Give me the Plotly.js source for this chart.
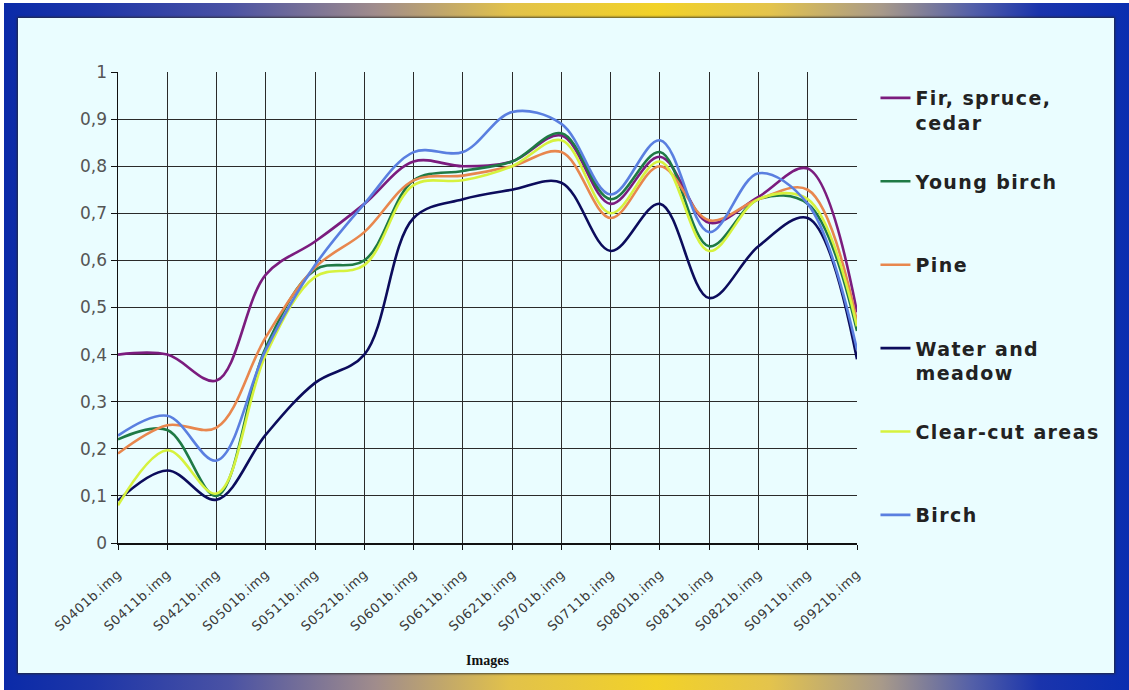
<!DOCTYPE html>
<html>
<head>
<meta charset="utf-8">
<script src="https://cdn.plot.ly/plotly-3.0.1.min.js"></script>
<style>
  html, body { margin: 0; padding: 0; background: #ffffff; }
  #wrap { position: relative; width: 1129px; height: 690px; overflow: hidden; }
  #frame {
    position: absolute; left: 4px; top: 3px; width: 1125px; height: 687px;
    background: linear-gradient(to right, #0a2aa8 0%, #1e36a8 8%, #4a52a4 20%, #a08c8c 33%, #e2c24a 45%, #f2d228 58%, #e4c44c 68%, #a89a8a 78%, #5460a8 86%, #1a34ac 92%, #0a2eb0 100%);
  }
  #inner {
    position: absolute; left: 18px; top: 18px; width: 1096px; height: 655px;
    background: #eafdff;
    box-shadow: 0 0 2px 1px rgba(40,40,40,0.8);
  }
  #chart { position: absolute; left: 0; top: 0; width: 1129px; height: 690px; }
  #chart .legendtext { letter-spacing: 1.4px; }
  #chart .xtick text { letter-spacing: 0.6px; }
</style>
</head>
<body>
<div id="wrap">
  <div id="frame"></div>
  <div id="inner"></div>
  <div id="chart"></div>
</div>
<script>
const categories = ["S0401b.img","S0411b.img","S0421b.img","S0501b.img","S0511b.img","S0521b.img","S0601b.img","S0611b.img","S0621b.img","S0701b.img","S0711b.img","S0801b.img","S0811b.img","S0821b.img","S0911b.img","S0921b.img"];

const firSpruceCedar = [0.40, 0.40, 0.345, 0.57, 0.64, 0.72, 0.81, 0.80, 0.81, 0.865, 0.72, 0.82, 0.68, 0.735, 0.795, 0.49];
const youngBirch     = [0.22, 0.24, 0.10, 0.415, 0.58, 0.60, 0.77, 0.79, 0.81, 0.87, 0.73, 0.83, 0.63, 0.73, 0.72, 0.45];
const pine           = [0.19, 0.25, 0.245, 0.437, 0.585, 0.66, 0.77, 0.78, 0.80, 0.83, 0.69, 0.80, 0.685, 0.73, 0.75, 0.47];
const waterMeadow    = [0.09, 0.154, 0.092, 0.23, 0.34, 0.40, 0.69, 0.73, 0.75, 0.765, 0.62, 0.72, 0.52, 0.63, 0.69, 0.39];
const clearCut       = [0.08, 0.197, 0.105, 0.40, 0.565, 0.59, 0.76, 0.77, 0.80, 0.855, 0.70, 0.81, 0.62, 0.73, 0.73, 0.46];
const birch          = [0.228, 0.27, 0.175, 0.41, 0.59, 0.72, 0.83, 0.83, 0.915, 0.89, 0.74, 0.855, 0.66, 0.785, 0.72, 0.41];

const seriesNames = ["Fir, spruce,<br>cedar", "Young birch<br>\u00a0", "Pine<br>\u00a0", "Water and<br>meadow", "Clear-cut areas\u00a0\u00a0\u00a0<br>\u00a0", "Birch<br>\u00a0"];
const seriesColors = ["#7b1c7e", "#1f7a45", "#e8874e", "#0c0c5c", "#d6f23e", "#5a7fe0"];
const seriesValues = [firSpruceCedar, youngBirch, pine, waterMeadow, clearCut, birch];

const traces = seriesValues.map((vals, i) => ({
  type: "scatter",
  mode: "lines",
  x: categories,
  y: vals,
  name: seriesNames[i],
  legendgroup: "g" + i,
  line: { color: seriesColors[i], width: 2.6, shape: "spline", smoothing: 1 }
}));

const layout = {
  width: 1129,
  height: 690,
  separators: ",.",
  paper_bgcolor: "rgba(0,0,0,0)",
  plot_bgcolor: "rgba(0,0,0,0)",
  margin: { l: 118, r: 272, t: 72, b: 147 },
  font: { family: "DejaVu Sans, Verdana, sans-serif", color: "#333" },
  xaxis: {
    type: "category",
    range: [0, 15],
    showgrid: true,
    gridcolor: "#2a2a2a",
    gridwidth: 1,
    showline: true,
    linecolor: "#111",
    linewidth: 1.5,
    ticks: "outside",
    ticklen: 5,
    tickcolor: "#111",
    tickangle: -42,
    ticklabelstandoff: 12,
    tickfont: { family: "DejaVu Sans, Verdana, sans-serif", size: 13, color: "#3a3a3a" },
    zeroline: false,
    title: { text: "<b>Images</b>", font: { family: "Liberation Serif, serif", size: 14, color: "#111" }, standoff: 26 }
  },
  yaxis: {
    range: [0, 1],
    dtick: 0.1,
    tick0: 0,
    showgrid: true,
    gridcolor: "#2a2a2a",
    gridwidth: 1,
    showline: true,
    linecolor: "#111",
    linewidth: 1.5,
    ticks: "outside",
    ticklen: 6,
    tickcolor: "#111",
    tickfont: { family: "DejaVu Sans, Verdana, sans-serif", size: 17, color: "#555" },
    zeroline: false
  },
  legend: {
    x: 1.025,
    xanchor: "left",
    y: 0.985,
    yanchor: "top",
    bgcolor: "rgba(0,0,0,0)",
    font: { family: "DejaVu Sans, Verdana, sans-serif", size: 19, color: "#222", weight: "bold" },
    valign: "top",
    traceorder: "grouped",
    tracegroupgap: 31,
    itemwidth: 30
  },
  showlegend: true
};

Plotly.newPlot("chart", traces, layout, { displayModeBar: false, staticPlot: true });
</script>
</body>
</html>
